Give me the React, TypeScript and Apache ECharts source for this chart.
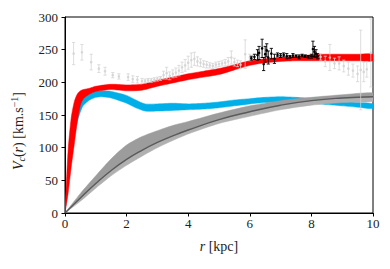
import React, { useEffect, useRef } from "react";
import * as echarts from "echarts";

// Grey model band (mean line + spread)
const grayX = [0, 0.5, 1, 1.5, 2, 2.5, 3, 3.5, 4, 5, 6, 7, 8, 9, 10];
const grayUpper = [0, 30, 57, 83, 104, 117, 126, 134, 140, 153, 164, 172, 177, 181, 184];
const grayMean = [0, 23, 45, 65, 82, 96, 108, 118, 127, 143, 155, 165, 172, 176, 178];
const grayLower = [0, 18, 38, 57, 73, 87, 100, 111, 121, 137, 148, 158, 165, 169, 171];

// Red band
const redX = [0, 0.1, 0.2, 0.3, 0.4, 0.5, 0.6, 0.8, 1, 1.5, 2, 2.5, 3, 3.5, 4, 4.5, 5, 5.5, 6, 6.5, 7, 7.5, 8, 8.5, 9, 9.5, 10];
const redUpper = [0, 95, 145, 170, 182, 187, 189, 191, 194, 197, 196, 197, 203, 208, 213, 217, 221, 227, 233, 236, 238, 240, 242, 243, 243, 243, 243];
const redLower = [0, 30, 70, 105, 140, 165, 175, 182, 186, 189, 187, 188, 194, 199, 204, 208, 212, 219, 226, 230, 232, 233, 233, 233, 233, 233, 233];

// Cyan band
const cyanX = [0, 0.1, 0.2, 0.3, 0.4, 0.5, 0.6, 0.8, 1, 1.2, 1.5, 2, 2.3, 2.6, 3, 3.5, 4, 4.5, 5, 5.5, 6, 6.5, 7, 7.5, 8, 8.5, 9, 9.5, 10];
const cyanUpper = [0, 60, 110, 140, 160, 172, 178, 183, 186, 187, 186, 180, 173, 167, 167, 168, 167, 168, 170, 173, 175, 177, 178, 177, 175, 173, 171, 169, 167];
const cyanLower = [0, 40, 80, 115, 140, 155, 165, 173, 177, 178, 176, 168, 161, 156, 156, 157, 158, 159, 161, 164, 167, 169, 170, 169, 168, 166, 164, 162, 160];

// Light grey data points: [r, v, err]
const greyPoints = [
  [0.28, 244, 17], [0.55, 246, 12], [0.85, 231, 12], [1.1, 221, 6], [1.3, 217, 6],
  [1.55, 211, 4], [1.75, 209, 4], [2.05, 208, 5], [2.2, 205, 5], [2.35, 204, 5],
  [2.5, 202, 4], [2.6, 202, 3], [2.7, 203, 3], [2.8, 203, 3], [2.9, 204, 3],
  [3.0, 205, 3], [3.1, 206, 3], [3.2, 211, 6], [3.3, 214, 9], [3.4, 210, 6],
  [3.5, 213, 6], [3.6, 215, 7], [3.7, 218, 8], [3.8, 223, 8], [3.9, 226, 9],
  [4.0, 230, 10], [4.1, 234, 11], [4.2, 236, 10], [4.3, 232, 7], [4.4, 230, 6],
  [4.5, 228, 5], [4.6, 227, 5], [4.7, 226, 4], [4.8, 225, 4], [4.9, 227, 4],
  [5.0, 228, 4], [5.1, 229, 4], [5.2, 230, 5], [5.3, 232, 6], [5.4, 238, 10],
  [5.5, 231, 6], [5.6, 229, 5], [5.7, 227, 6], [5.85, 243, 22], [6.0, 238, 5],
  [8.3, 239, 5], [8.45, 232, 8], [8.6, 238, 20], [8.75, 229, 8], [8.9, 229, 10],
  [9.05, 225, 9], [9.2, 221, 10], [9.35, 218, 10], [9.5, 213, 12], [9.6, 219, 61],
  [9.7, 216, 15], [9.8, 220, 12], [9.93, 245, 52],
];

// Black data points: [r, v, err]
const blackPoints = [
  [6.05, 237, 3], [6.15, 239, 4], [6.25, 242, 8], [6.3, 245, 10], [6.4, 252, 14],
  [6.45, 228, 10], [6.5, 243, 12], [6.55, 249, 10], [6.6, 238, 10], [6.7, 244, 8],
  [6.8, 236, 7], [6.9, 242, 3], [7.0, 241, 3], [7.1, 242, 3], [7.2, 240, 4],
  [7.3, 239, 2], [7.4, 241, 3], [7.5, 240, 2], [7.6, 239, 3], [7.7, 241, 2],
  [7.8, 240, 2], [7.9, 239, 2], [8.0, 240, 3], [8.05, 251, 12], [8.1, 247, 8],
  [8.15, 244, 6], [8.2, 240, 4],
];

const xTicks = { min: 0, max: 10, interval: 2 };
const yTicks = { min: 0, max: 300, interval: 50 };

const FONT = "Liberation Serif";

function band(name: string, xs: number[], lo: number[], hi: number[], color: string, z: number) {
  return {
    type: "custom",
    name,
    z,
    clip: true,
    data: [[xs[0], lo[0]]],
    renderItem: (_p: any, api: any) => {
      const pts: number[][] = [];
      for (let i = 0; i < xs.length; i++) pts.push(api.coord([xs[i], hi[i]]));
      for (let i = xs.length - 1; i >= 0; i--) pts.push(api.coord([xs[i], lo[i]]));
      return {
        type: "polygon",
        shape: { points: pts, smooth: 0.25 },
        style: { fill: color, stroke: color, lineWidth: 0.5 },
      };
    },
  };
}

function errPoints(name: string, pts: number[][], color: string, opacity: number, z: number) {
  return {
    type: "custom",
    name,
    z,
    clip: true,
    data: pts,
    renderItem: (_p: any, api: any) => {
      const x = api.value(0), y = api.value(1), e = api.value(2);
      const c = api.coord([x, y]);
      const top = api.coord([x, y + e]);
      const bot = api.coord([x, y - e]);
      const cap = 1.6;
      const st = { stroke: color, lineWidth: 0.9, opacity };
      return {
        type: "group",
        children: [
          { type: "line", shape: { x1: c[0], y1: top[1], x2: c[0], y2: bot[1] }, style: st },
          { type: "line", shape: { x1: c[0] - cap, y1: top[1], x2: c[0] + cap, y2: top[1] }, style: st },
          { type: "line", shape: { x1: c[0] - cap, y1: bot[1], x2: c[0] + cap, y2: bot[1] }, style: st },
          { type: "circle", shape: { cx: c[0], cy: c[1], r: 1.3 }, style: { fill: color, opacity } },
        ],
      };
    },
  };
}

export default function App() {
  const ref = useRef<HTMLDivElement>(null);
  useEffect(() => {
    document.body.style.margin = "0";
    const chart = echarts.init(ref.current!, null, { renderer: "svg" });
    const axisCommon = {
      axisLine: { show: true, onZero: false, lineStyle: { color: "#000", width: 1 } },
      axisTick: { show: true, inside: false, length: 3.5, lineStyle: { color: "#000", width: 1 } },
      splitLine: { show: false },
    };
    chart.setOption({
      animation: false,
      grid: { left: 65, right: 17, top: 17, bottom: 56, show: true, borderColor: "#000", borderWidth: 1, backgroundColor: "transparent" },
      xAxis: {
        type: "value",
        ...xTicks,
        ...axisCommon,
        axisLabel: { margin: 4, color: "#222", fontFamily: FONT, fontSize: 13 },
      },
      yAxis: {
        type: "value",
        ...yTicks,
        ...axisCommon,
        axisLabel: { margin: 7, color: "#222", fontFamily: FONT, fontSize: 13 },
      },
      graphic: [
        {
          type: "text",
          x: 219,
          y: 246,
          style: {
            text: "{i|r} [kpc]",
            fontFamily: FONT,
            fontSize: 14,
            fill: "#222",
            align: "center",
            verticalAlign: "middle",
            rich: { i: { fontStyle: "italic", fontFamily: FONT, fontSize: 14, fill: "#222" } },
          },
        },
        {
          type: "text",
          x: 18,
          y: 131,
          rotation: Math.PI / 2,
          style: {
            text: "{i|V}{sub|c}({i|r}) [km.s{sup|−1}]",
            fontFamily: FONT,
            fontSize: 14,
            lineHeight: 17,
            fill: "#222",
            align: "center",
            verticalAlign: "middle",
            rich: {
              i: { fontStyle: "italic", fontFamily: FONT, fontSize: 14, lineHeight: 17, fill: "#222" },
              sub: { fontStyle: "italic", fontFamily: FONT, fontSize: 10, lineHeight: 10, verticalAlign: "bottom", fill: "#222" },
              sup: { fontFamily: FONT, fontSize: 10, lineHeight: 10, verticalAlign: "top", fill: "#222" },
            },
          },
        },
      ],
      series: [
        band("cyan", cyanX, cyanLower, cyanUpper, "#00aee8", 2),
        band("grayLow", grayX, grayLower, grayMean, "#b0b0b0", 3),
        band("grayHigh", grayX, grayMean, grayUpper, "#9c9c9c", 3),
        {
          type: "line",
          name: "grayMean",
          z: 4,
          data: grayX.map((x, i) => [x, grayMean[i]]),
          smooth: true,
          showSymbol: false,
          lineStyle: { color: "#5a5a5a", width: 1.4 },
        },
        band("red", redX, redLower, redUpper, "#ff0000", 5),
        errPoints("grey", greyPoints, "#d2d2d2", 0.85, 6),
        errPoints("black", blackPoints, "#000000", 1, 7),
      ],
    });
    return () => chart.dispose();
  }, []);
  return <div ref={ref} style={{ width: 390, height: 269 }} />;
}
